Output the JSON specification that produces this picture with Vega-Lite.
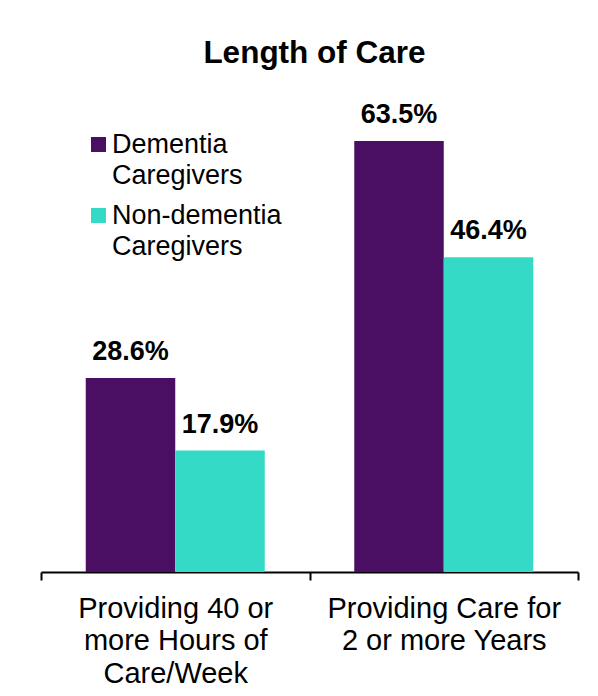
{
  "$schema": "https://vega.github.io/schema/vega-lite/v6.json",
  "width": 537,
  "height": 475,
  "autosize": {"type": "none"},
  "padding": {"left": 41, "top": 97, "right": 20, "bottom": 124},
  "background": "white",
  "title": {"text": "Length of Care", "fontSize": 31.5, "fontWeight": "bold", "font": "Liberation Sans", "color": "#000000", "anchor": "middle", "dx": 5, "offset": 28},
  "data": {"values": [
    {"cat": "Providing 40 or|more Hours of|Care/Week", "grp": "Dementia|Caregivers", "value": 0.286},
    {"cat": "Providing 40 or|more Hours of|Care/Week", "grp": "Non-dementia|Caregivers", "value": 0.179},
    {"cat": "Providing Care for|2 or more Years", "grp": "Dementia|Caregivers", "value": 0.635},
    {"cat": "Providing Care for|2 or more Years", "grp": "Non-dementia|Caregivers", "value": 0.464}
  ]},
  "encoding": {
    "x": {"field": "cat", "type": "nominal", "sort": null,
      "scale": {"paddingInner": 0, "paddingOuter": 0},
      "axis": {"title": null, "labelAngle": 0, "labelExpr": "split(datum.label, '|')", "labelFontSize": 29, "labelFont": "Liberation Sans", "labelColor": "#000000", "labelLineHeight": 32.5, "labelPadding": 14, "tickBand": "extent", "tickSize": 8, "tickWidth": 2, "tickColor": "#000000", "domainColor": "#000000", "domainWidth": 2, "labelLimit": 0, "labelOverlap": false}},
    "xOffset": {"field": "grp", "type": "nominal", "sort": null, "scale": {"paddingInner": 0, "paddingOuter": 0.5}},
    "y": {"field": "value", "type": "quantitative", "scale": {"domain": [0, 0.7], "nice": false}, "axis": null}
  },
  "layer": [
    {"mark": {"type": "bar"},
     "encoding": {"color": {"field": "grp", "type": "nominal", "sort": null,
       "scale": {"range": ["#4A0F63", "#34DAC6"]},
       "legend": {"title": null, "orient": "none", "legendX": 44, "legendY": 34, "labelExpr": "split(datum.label, '|')", "labelFontSize": 27, "labelFont": "Liberation Sans", "labelColor": "#000000", "labelOffset": 0, "symbolType": "square", "symbolSize": 225, "symbolStrokeWidth": 0, "symbolOpacity": 1, "rowPadding": 12, "padding": 0, "labelLimit": 0,
         "encode": {"labels": {"update": {"lineHeight": {"value": 31.5}}}}}}}},
    {"mark": {"type": "text", "baseline": "alphabetic", "dy": -18, "fontSize": 27, "fontWeight": "bold", "font": "Liberation Sans", "color": "#000000"},
     "encoding": {"text": {"field": "value", "type": "quantitative", "format": ".1%"}}}
  ],
  "config": {"view": {"stroke": null}}
}
